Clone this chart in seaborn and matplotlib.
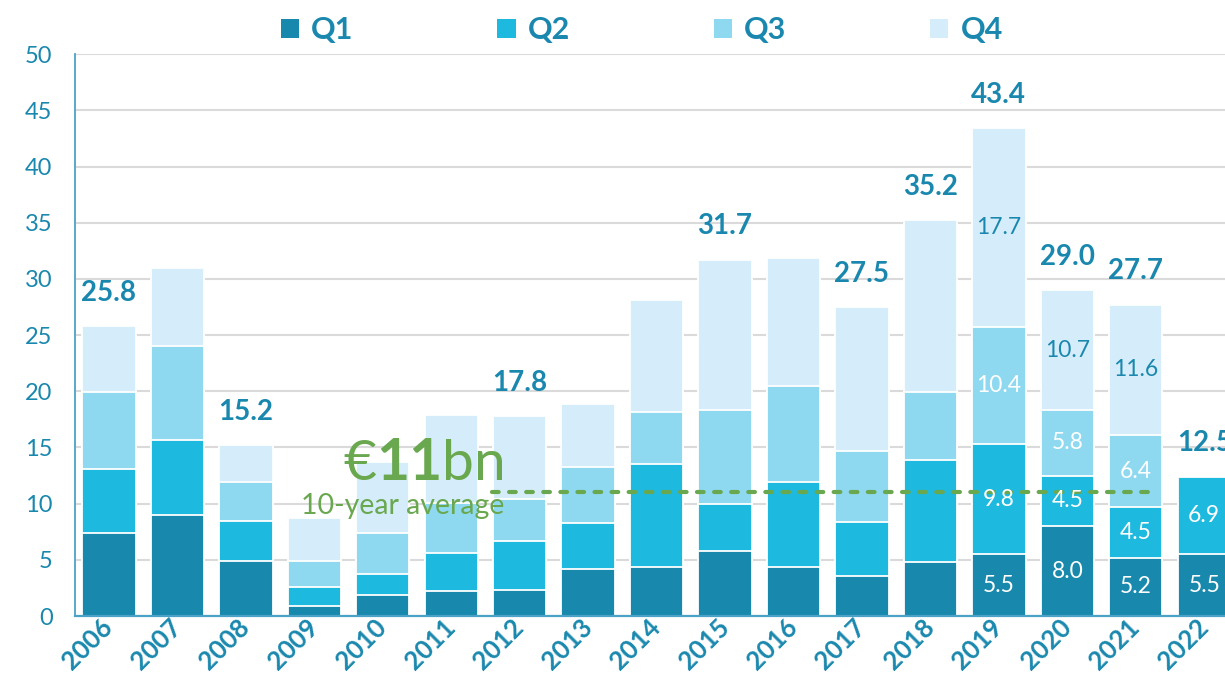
import numpy as np
import pandas as pd
import seaborn as sns
import matplotlib.pyplot as plt
from matplotlib.patches import Patch

# quarterly volumes (EUR bn)
years = [str(y) for y in range(2006, 2023)]
q1 = [7.4, 9.0, 4.9, 0.9, 1.9, 2.2, 2.3, 4.2, 4.4, 5.8, 4.4, 3.6, 4.8, 5.5, 8.0, 5.2, 5.5]
q2 = [5.7, 6.7, 3.6, 1.7, 1.8, 3.4, 4.4, 4.1, 9.1, 4.2, 7.5, 4.8, 9.1, 9.8, 4.5, 4.5, 6.9]
q3 = [6.8, 8.3, 3.4, 2.3, 3.7, 4.5, 3.7, 5.0, 4.7, 8.3, 8.6, 6.3, 6.0, 10.4, 5.8, 6.4, 0.0]
q4 = [5.9, 7.0, 3.3, 3.8, 6.3, 7.8, 7.4, 5.6, 9.9, 13.4, 11.4, 12.8, 15.3, 17.7, 10.7, 11.6, 0.0]

total_years = ['2006', '2008', '2012', '2015', '2017', '2018', '2019', '2020', '2021', '2022']
total_text = ['25.8', '15.2', '17.8', '31.7', '27.5', '35.2', '43.4', '29.0', '27.7', '12.5']
detail_years = ['2019', '2020', '2021', '2022']

avg_value = 11
avg_span = (5.6, 15.2)

sns.set_style('white')
plt.rcParams['font.family'] = ['Lato', 'DejaVu Sans']

teal = '#1a88ae'
axis_col = '#4aa3c6'
green = '#6aa84f'
colors = {'Q1': '#1889ad', 'Q2': '#1eb9de', 'Q3': '#8fd9f0', 'Q4': '#d5ecfa'}
text_col = {'Q1': 'white', 'Q2': 'white', 'Q3': 'white', 'Q4': teal}

df = pd.DataFrame({'year': years, 'Q1': q1, 'Q2': q2, 'Q3': q3, 'Q4': q4})
quarters = ['Q1', 'Q2', 'Q3', 'Q4']
cum = df[quarters].cumsum(axis=1)

fig = plt.figure(figsize=(12.25, 6.86), dpi=100)
ax = fig.add_axes([0.061, 0.102, 0.950, 0.819])

# stacked bars: draw cumulative heights from the top down
for q in reversed(quarters):
    sns.barplot(x=df['year'], y=cum[q], color=colors[q], width=0.78,
                edgecolor='white', linewidth=1.3, saturation=1, ax=ax, zorder=2)

ax.set_xlim(-0.5, 16.5)
ax.set_ylim(0, 50)
ax.set_yticks(range(0, 51, 5))
ax.yaxis.grid(True, color='#dadada', lw=1.5)
ax.set_axisbelow(True)
ax.set_xlabel('')
ax.set_ylabel('')
for s in ['top', 'right']:
    ax.spines[s].set_visible(False)
ax.spines['left'].set_color(axis_col)
ax.spines['bottom'].set_color(axis_col)
ax.spines['left'].set_linewidth(1.3)
ax.spines['bottom'].set_linewidth(1.6)

ax.tick_params(axis='y', length=7, color=axis_col, labelsize=17, labelcolor=teal, pad=9)
ax.set_xticks(np.arange(-0.5, 17, 1), minor=True)
ax.tick_params(axis='x', which='minor', length=8, color=axis_col, width=1.2)
ax.tick_params(axis='x', which='major', length=0, pad=5)
ax.set_xticks(range(len(years)))
ax.set_xticklabels(years, rotation=45, ha='right', va='center', rotation_mode='anchor',
                   fontsize=18.5, fontweight='bold', color=teal)

# totals above selected bars
tot = cum['Q4']
for y, t in zip(total_years, total_text):
    i = years.index(y)
    ax.annotate(t, (i, tot[i]), xytext=(0, 24), textcoords='offset points',
                ha='center', va='center', fontsize=20, fontweight='bold', color=teal)

# segment values for recent years
for y in detail_years:
    i = years.index(y)
    for q in quarters:
        v = df.loc[i, q]
        if v > 0:
            ax.text(i, cum.loc[i, q] - v / 2, f'{v:.1f}', ha='center', va='center',
                    fontsize=16.5, color=text_col[q], zorder=5)

# 10-year average
ax.plot(avg_span, [avg_value, avg_value], color=green, lw=3, ls=(0, (1.6, 2.5)),
        dash_capstyle='round', zorder=4)
t1 = ax.text(3.42, 12.1, '€', fontsize=41, color=green, ha='left', va='baseline', zorder=6)
t2 = ax.annotate('11', xy=(1, 0), xycoords=t1, fontsize=41, fontweight='bold',
                 color=green, ha='left', va='bottom', zorder=6)
ax.annotate('bn', xy=(1, 0), xycoords=t2, fontsize=41, color=green,
            ha='left', va='bottom', zorder=6)
ax.text(2.8, 9.1, '10-year average', fontsize=20.5, color=green, ha='left',
        va='baseline', zorder=6)

handles = [Patch(facecolor=colors[q], edgecolor='none') for q in quarters]
fig.legend(handles, quarters, loc='center', bbox_to_anchor=(0.524, 0.956), ncol=4,
           frameon=False, prop={'size': 22, 'weight': 'bold'}, labelcolor=teal,
           handlelength=0.6, handleheight=0.6, handletextpad=0.4, columnspacing=4.7)

fig.savefig('out.png', dpi=100)
